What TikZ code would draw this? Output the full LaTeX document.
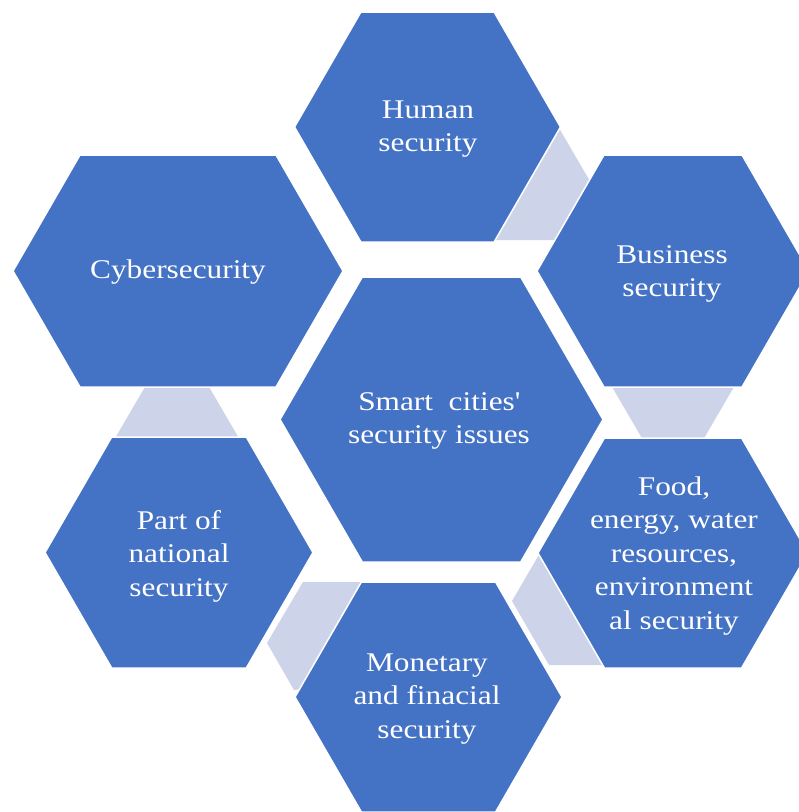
\documentclass[tikz,border=0pt]{standalone}
\usepackage{fontspec}
\setmainfont[FakeStretch=1.16]{Liberation Serif}
\definecolor{hexblue}{HTML}{4472C4}
\definecolor{linkgray}{HTML}{CDD3E8}
\tikzset{
  hexstyle/.style={fill=hexblue,draw=white,line width=1.5pt,line join=miter},
  linkstyle/.style={fill=linkgray,draw=none},
  lbl/.style={text=white,align=center,inner sep=0pt,font=\fontsize{27}{33.5}\selectfont}
}
\newcommand{\straightq}{\XeTeXglyph\XeTeXcharglyph"27\relax}
% center x, center y, half width, half height
\newcommand{\hexa}[4]{%
  \path[hexstyle] ({#1-#3},{#2}) -- ({#1-#3+0.57735*#4},{#2-#4}) -- ({#1+#3-0.57735*#4},{#2-#4})
    -- ({#1+#3},{#2}) -- ({#1+#3-0.57735*#4},{#2+#4}) -- ({#1-#3+0.57735*#4},{#2+#4}) -- cycle;}
\begin{document}
\begin{tikzpicture}[x=1pt,y=-1pt]
\useasboundingbox (0,0) rectangle (799,812);
\clip (0,0) rectangle (799,812);
\fill[white] (0,0) rectangle (799,812);
% connector pieces
\path[linkstyle] (559,128) -- (605,207) -- (592,240) -- (480,240) -- cycle;
\path[linkstyle] (608,380) -- (738,380) -- (703,440) -- (643,440) -- cycle;
\path[linkstyle] (149,380) -- (205,380) -- (240,440) -- (114,440) -- cycle;
\path[linkstyle] (303,582) -- (372,582) -- (310,688) -- (294,690) -- (267,643) -- cycle;
\path[linkstyle] (540,553) -- (512,601) -- (549,665) -- (620,665) -- (562,553) -- cycle;
% hexagons
\hexa{427.5}{127}{133}{115}
\hexa{178}{271}{165}{116}
\hexa{673}{271}{136}{116}
\hexa{441.5}{419.5}{161.5}{142.5}
\hexa{179}{552.5}{134}{115.5}
\hexa{428.5}{697}{133.5}{115}
\hexa{673}{553}{135}{115}
% labels
\node[lbl] (human) at (428,129) {Human\\security};
\node[lbl] (cyber) at (178,272) {Cybersecurity};
\node[lbl] (business) at (672,274) {Business\\security};
\node[lbl] (center) at (439,421) {Smart \ cities\straightq\\security issues};
\node[lbl] (national) at (179,556) {Part of\\national\\security};
\node[lbl] (monetary) at (427,699) {Monetary\\and finacial\\security};
\node[lbl] (food) at (674,556) {Food,\\energy, water\\resources,\\environment\\al security};
\end{tikzpicture}
\end{document}
